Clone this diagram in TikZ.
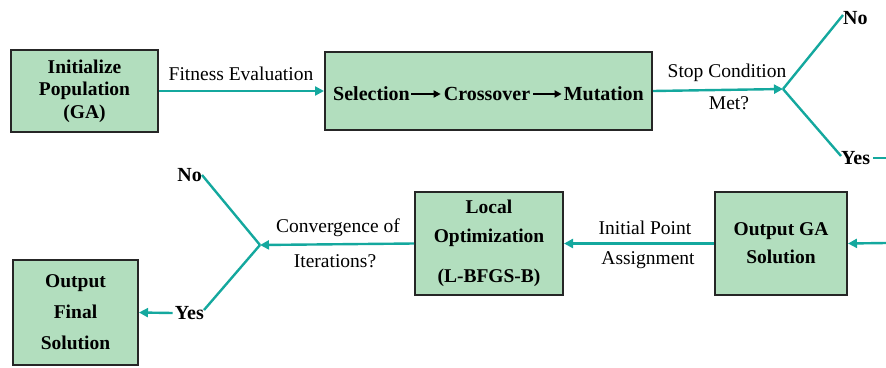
\documentclass[tikz,border=0pt]{standalone}
\usepackage{fontspec}
\setmainfont{Liberation Serif}
\usetikzlibrary{arrows.meta}
\definecolor{boxfill}{RGB}{178,222,190}
\definecolor{teal1}{RGB}{20,168,158}
\begin{document}
\begin{tikzpicture}[x=1pt,y=-1pt,
  box/.style={draw=black!85,line width=2pt,fill=boxfill,align=center,font=\fontsize{19.5}{22.5}\selectfont\bfseries,inner sep=0pt},
  word/.style={font=\fontsize{20}{22}\selectfont\bfseries,inner sep=0pt},
  lbl/.style={font=\fontsize{19.5}{22}\selectfont,inner sep=0pt},
  flow/.style={draw=teal1,line width=2.4pt},
  flowarr/.style={flow,-{Triangle[length=9pt,width=9pt]}},
  blk/.style={draw=black,line width=1.8pt,-{Triangle[length=7pt,width=7pt]}}]
\useasboundingbox (0,0) rectangle (886,367);
% row 1
\node[box,minimum width=147pt,minimum height=82pt] (init) at (84.5,91)
  {Initialize\\Population\\(GA)};
\node[box,minimum width=327pt,minimum height=78pt] (sel) at (488.5,91) {};
\node[word,anchor=west] (s1) at (333,94) {Selection};
\node[word] (s2) at (487,94) {Crossover};
\node[word,anchor=east] (s3) at (644,94) {Mutation};
\draw[blk] ([xshift=1pt]s1.east) -- ([xshift=-3pt]s2.west);
\draw[blk] ([xshift=3pt]s2.east) -- ([xshift=-2pt]s3.west);
\draw[flowarr] (init.east) -- (sel.west);
\node[lbl] (fe) at (241,74) {Fitness Evaluation};
\coordinate (b1) at (783,89);
\draw[flowarr] (sel.east) -- (b1);
\node[lbl] (sc) at (727,73) {Stop Condition};
\node[lbl] (met) at (729,103) {Met?};
\node[word,anchor=west] (no1) at (843,18) {No};
\node[word,anchor=west] (yes1) at (841,158) {Yes};
\draw[flow] (b1) -- ([yshift=3pt]no1.west);
\draw[flow] (b1) -- ([yshift=2pt]yes1.west);
\coordinate (e1) at (886,158);
\draw[flow,line width=2pt] ([xshift=3pt]yes1.east) -- (e1);
% row 2
\node[box,minimum width=132pt,minimum height=103pt,font=\fontsize{19.5}{28}\selectfont\bfseries] (oga) at (781,243.5)
  {Output GA\\Solution};
\coordinate (e2) at (886,243);
\draw[flowarr] (e2) -- (oga.east);
\node[box,minimum width=148pt,minimum height=103pt,font=\fontsize{19.5}{29}\selectfont\bfseries] (loc) at (489,243.5)
  {Local\\Optimization\\[11pt](L-BFGS-B)};
\draw[flowarr] (oga.west) -- (loc.east);
\node[lbl] (ip) at (645,228) {Initial Point};
\node[lbl] (as) at (648,260) {Assignment};
\coordinate (b2) at (260,245);
\draw[flowarr] (loc.west) -- (b2);
\node[lbl] (cv) at (338,228) {Convergence of};
\node[lbl] (it) at (335,261) {Iterations?};
\node[word,anchor=east] (no2) at (202,175) {No};
\node[word,anchor=east] (yes2) at (204,313) {Yes};
\draw[flow] (b2) -- (no2.east);
\draw[flow] (b2) -- ([yshift=3pt]yes2.east);
\node[box,minimum width=125pt,minimum height=105pt,font=\fontsize{19.5}{31}\selectfont\bfseries] (fin) at (75.5,312.5)
  {Output\\Final\\Solution};
\draw[flowarr] ([xshift=-2pt]yes2.west) -- (fin.east);
\end{tikzpicture}
\end{document}
